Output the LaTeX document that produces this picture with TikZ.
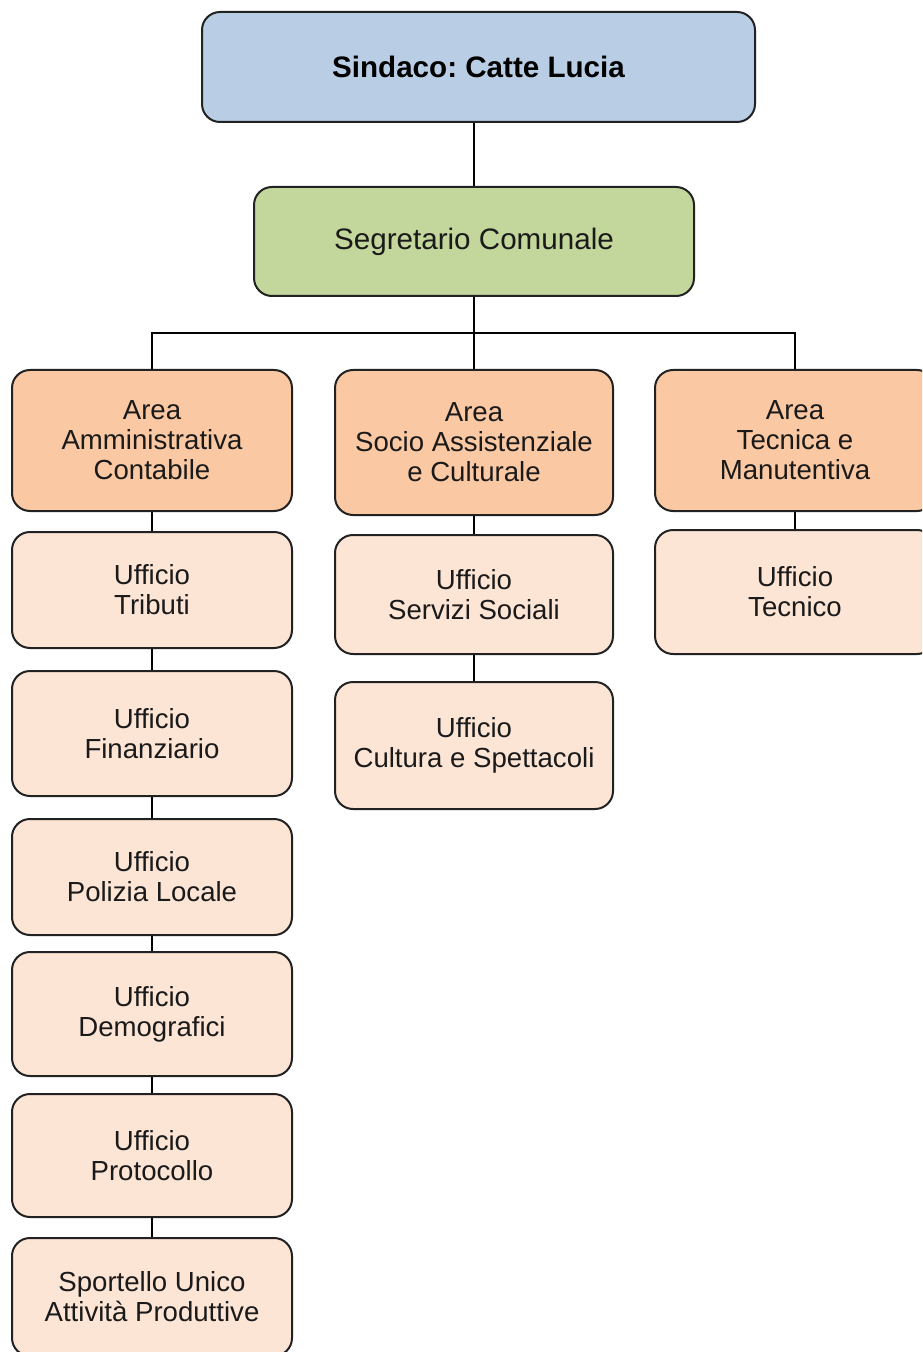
\documentclass[tikz,border=0pt]{standalone}
\usepackage{fontspec}
\setmainfont{Liberation Sans}
\frenchspacing
\definecolor{sindfill}{HTML}{B9CDE5}
\definecolor{segrfill}{HTML}{C3D69B}
\definecolor{areafill}{HTML}{FAC8A2}
\definecolor{uffill}{HTML}{FDE5D6}
\definecolor{edge}{HTML}{222222}
\definecolor{txt}{HTML}{1A1A1A}
\begin{document}
\begin{tikzpicture}[x=0.5pt,y=-0.5pt,
  box/.style={draw=edge, line width=1pt, rounded corners=9pt, align=center,
    inner sep=0pt, text=txt, font=\fontsize{13.8}{15}\selectfont},
  topbox/.style={box, font=\fontsize{14.8}{16}\selectfont},
  areabox/.style={box, fill=areafill},
  ufbox/.style={box, fill=uffill},
  conn/.style={draw=black, line width=1pt}]
\useasboundingbox (0,0) rectangle (922,1352);
\fill[white] (0,0) rectangle (922,1352);
\clip (0,0) rectangle (922,1352);

\node[topbox, fill=sindfill, minimum width=276.5pt, minimum height=55pt, font=\fontsize{14.8}{16}\selectfont\bfseries, text=black] (sind) at (478.5,67) {Sindaco: Catte Lucia};
\node[topbox, fill=segrfill, minimum width=220pt, minimum height=54.5pt] (segr) at (474,241.5) {Segretario Comunale};

\node[areabox, minimum width=140pt, minimum height=70.5pt] (areaA) at (152,440.5) {Area\\Amministrativa\\Contabile};
\node[areabox, minimum width=139pt, minimum height=72.5pt] (areaS) at (474,442.5) {Area\\Socio Assistenziale\\e Culturale};
\node[areabox, minimum width=140pt, minimum height=70.5pt] (areaT) at (795,440.5) {Area\\Tecnica e\\Manutentiva};

\node[ufbox, minimum width=140pt, minimum height=58pt] (trib) at (152,590) {Ufficio\\Tributi};
\node[ufbox, minimum width=140pt, minimum height=62.5pt] (fin) at (152,733.5) {Ufficio\\Finanziario};
\node[ufbox, minimum width=140pt, minimum height=58pt] (pol) at (152,877) {Ufficio\\Polizia Locale};
\node[ufbox, minimum width=140pt, minimum height=62pt] (dem) at (152,1014) {Ufficio\\Demografici};
\node[ufbox, minimum width=140pt, minimum height=61.5pt] (prot) at (152,1155.5) {Ufficio\\Protocollo};
\node[ufbox, minimum width=140pt, minimum height=59pt] (sport) at (152,1297) {Sportello Unico\\Attività Produttive};

\node[ufbox, minimum width=139pt, minimum height=59.5pt] (serv) at (474,594.5) {Ufficio\\Servizi Sociali};
\node[ufbox, minimum width=139pt, minimum height=63.5pt] (cult) at (474,745.5) {Ufficio\\Cultura e Spettacoli};

\node[ufbox, minimum width=140pt, minimum height=62pt] (tec) at (795,592) {Ufficio\\Tecnico};

\coordinate (bus) at (474,333);

\draw[conn] (segr.north) -- (segr.north |- sind.south);
\draw[conn] (segr.south) -- (areaS.north);
\draw[conn] (areaA.north) |- (bus) -| (areaT.north);

\draw[conn] (areaA.south) -- (trib.north);
\draw[conn] (trib.south) -- (fin.north);
\draw[conn] (fin.south) -- (pol.north);
\draw[conn] (pol.south) -- (dem.north);
\draw[conn] (dem.south) -- (prot.north);
\draw[conn] (prot.south) -- (sport.north);

\draw[conn] (areaS.south) -- (serv.north);
\draw[conn] (serv.south) -- (cult.north);

\draw[conn] (areaT.south) -- (tec.north);
\end{tikzpicture}
\end{document}
